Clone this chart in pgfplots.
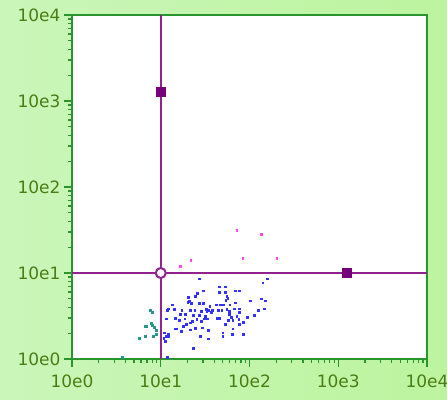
\documentclass[border=0pt]{standalone}
\usepackage{pgfplots}
\pgfplotsset{compat=1.18}
\usepackage{fontspec}
\setmainfont{DejaVu Sans}
\definecolor{bgL}{RGB}{202,246,186}
\definecolor{bgR}{RGB}{188,244,158}
\definecolor{axgreen}{RGB}{40,150,45}
\definecolor{lblgreen}{RGB}{75,125,20}
\definecolor{cursor}{RGB}{145,35,145}
\definecolor{cmark}{RGB}{120,0,120}
\definecolor{pblue}{RGB}{50,50,255}
\definecolor{pteal}{RGB}{40,150,140}
\definecolor{ppink}{RGB}{255,70,230}
\begin{document}
\begin{tikzpicture}
\useasboundingbox (0,0) rectangle (447bp,400bp);
\clip (0,0) rectangle (447bp,400bp);
\shade[left color=bgL, right color=bgR] (0,0) rectangle (447bp,400bp);
\begin{axis}[
  at={(72bp,41bp)}, anchor=south west,
  scale only axis, width=355bp, height=344bp,
  xmode=log, ymode=log,
  xmin=1, xmax=10000, ymin=1, ymax=10000,
  axis background/.style={fill=white},
  axis line style={draw=axgreen, line width=2bp},
  xtick={1,10,100,1000,10000},
  xticklabels={10e0,10e1,10e2,10e3,10e4},
  ytick={1,10,100,1000,10000},
  yticklabels={10e0,10e1,10e2,10e3,10e4},
  tick align=outside, tick pos=left,
  major tick length=8bp, minor tick length=4bp,
  every tick/.style={draw=axgreen, line width=1.2bp},
  ticklabel style={font=\fontsize{17bp}{20bp}\selectfont, text=lblgreen},
  xticklabel style={yshift=-4bp},
  clip=true,
]
% blue cluster
\addplot[only marks, mark=square*, mark size=0.95bp, color=pblue] coordinates {
(26.9,8.59) (157,8.59) (141,7.71) (45.6,6.93) (52.9,6.93) (68.6,6.22) (76.1,6.22)
(29.9,6.22) (45.6,5.97) (52.9,5.97) (25.8,5.85) (24.3,5.36) (20.6,5.26) (55.3,5.36)
(56.8,5.08) (53.9,4.81) (21.1,4.73) (20.1,4.60) (21.9,4.48) (26.9,4.48) (29.9,4.48)
(13.6,4.28) (35.6,4.13) (42.6,4.28) (46.5,4.28) (50.6,4.28) (69.8,4.52) (103,4.76)
(135,5.03) (151,4.76) (59.8,4.28) (32.3,3.78) (34.6,3.71) (37.7,3.71) (44.5,3.71)
(48.6,3.71) (55.3,3.78) (59.2,3.59) (67.3,3.85) (76.1,3.85) (76.1,3.49) (126,3.65)
(148,3.85) (12.1,3.85) (11.7,3.71) (14.3,3.78) (17.2,3.71) (21.7,3.68) (24.1,3.71)
(28.4,3.59) (32.9,3.55) (37.1,3.52) (16.7,3.28) (18.9,3.34) (23.0,3.22) (27.1,3.22)
(32.0,3.14) (58.7,3.31) (61.8,3.08) (71.7,3.16) (93.7,3.08) (114,3.25) (11.6,2.94)
(14.7,2.97) (16.0,2.82) (18.6,2.94) (25.4,2.87) (30.6,2.94) (33.7,2.94) (43.0,2.97)
(45.3,2.97) (57.7,2.84) (64.6,2.84) (75.5,2.87) (84.5,2.69) (21.3,2.64) (22.8,2.72)
(28.4,2.74) (19.5,2.53) (17.9,2.38) (14.4,2.25) (15.1,2.25) (17.0,2.12) (21.3,2.19)
(24.3,2.27) (29.1,2.31) (52.9,2.51) (64.6,2.25) (76.7,2.55) (34.6,2.15) (11.0,2.02)
(12.0,1.92) (11.4,1.85) (12.3,1.82) (10.8,1.74) (11.2,1.63) (49.9,2.02) (49.9,1.82)
(64.0,1.92) (84.5,1.92) (28.1,1.82) (34.6,1.72) (23.0,1.33) (11.7,1.04)
};
% teal cluster
\addplot[only marks, mark=square*, mark size=0.95bp, color=pteal] coordinates {
(7.67,3.71) (8.08,3.52) (7.73,2.60) (8.08,2.47) (6.62,2.38) (6.91,2.38) (8.43,2.36)
(8.87,2.17) (8.97,1.92) (8.15,1.82) (6.67,1.82) (5.66,1.74) (3.71,1.04)
};
% pink points
\addplot[only marks, mark=square*, mark size=0.9bp, color=ppink] coordinates {
(71.7,31.4) (135,28.2) (16.7,12.0) (21.7,14.1) (83.8,14.8) (203,14.8)
};
% cursor lines
\addplot[cursor, line width=2.5bp, no marks] coordinates {(10,1) (10,10000)};
\addplot[cursor, line width=2.5bp, no marks] coordinates {(1,10) (10000,10)};
% cursor markers
\addplot[only marks, mark=square*, mark size=4.5bp, color=cmark] coordinates {(10,1270) (1230,10)};
\addplot[only marks, mark=*, mark size=5bp, draw=cursor, fill=white, mark options={line width=2bp}] coordinates {(10,10)};
\end{axis}
\end{tikzpicture}
\end{document}
